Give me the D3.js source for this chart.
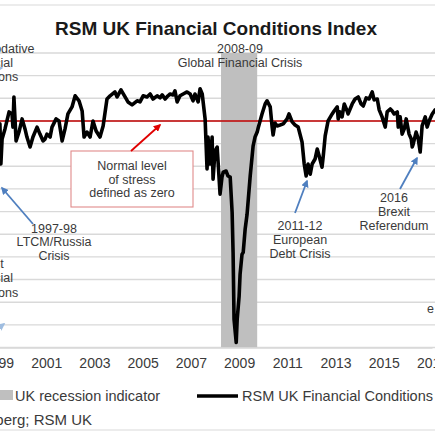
<!DOCTYPE html>
<html><head><meta charset="utf-8">
<script src="https://cdn.jsdelivr.net/npm/d3@7"></script>
<style>body{margin:0;background:#fff}svg{display:block;font-family:Arial,"Liberation Sans",sans-serif}</style>
</head><body><svg id="c" width="435" height="435"></svg>
<script>
// ---- data ----
const years = [
1999.08,1999.12,1999.17,1999.29,1999.46,1999.58,1999.62,1999.66,1999.75,1999.87,
2000.00,2000.12,2000.20,2000.33,2000.45,2000.62,2000.74,2000.87,2000.95,
2001.03,2001.16,2001.24,2001.41,2001.53,2001.66,2001.78,2001.90,
2002.07,2002.20,2002.36,2002.49,2002.57,2002.69,2002.82,2002.94,
2003.07,2003.23,2003.36,2003.52,2003.65,2003.85,2003.94,
2004.10,2004.27,2004.39,2004.56,2004.77,2004.89,
2005.02,2005.18,2005.31,2005.43,2005.60,2005.72,2005.81,2005.93,
2006.05,2006.14,2006.26,2006.34,2006.43,2006.55,2006.68,2006.84,2006.97,
2007.09,2007.17,2007.30,2007.38,2007.47,2007.59,2007.67,2007.71,2007.80,2007.88,2007.92,
2008.00,2008.09,2008.21,2008.29,2008.34,2008.46,2008.54,2008.63,2008.71,2008.75,2008.79,2008.88,2008.92,
2009.00,2009.04,2009.12,2009.17,2009.25,2009.33,2009.46,2009.54,2009.58,2009.66,2009.75,2009.79,2009.87,2009.95,
2010.08,2010.16,2010.29,2010.37,2010.41,2010.49,2010.58,2010.70,2010.83,2010.99,
2011.07,2011.20,2011.32,2011.45,2011.61,2011.70,2011.78,2011.86,2011.95,
2012.03,2012.15,2012.24,2012.32,2012.44,2012.49,2012.57,2012.69,2012.86,2012.94,
2013.07,2013.11,2013.19,2013.27,2013.36,2013.48,2013.52,2013.69,2013.81,2013.94,
2014.06,2014.15,2014.27,2014.39,2014.52,2014.60,2014.73,2014.81,2014.93,
2015.06,2015.14,2015.27,2015.35,2015.43,2015.56,2015.60,2015.68,2015.76,2015.85,2015.93,
2016.05,2016.14,2016.18,2016.22,2016.34,2016.43,2016.51,2016.59,2016.72,2016.80,2016.88,
2017.01,2017.13];
const fciValues = [
-0.13,-1.90,-0.80,-0.35,0.40,0.31,-0.27,1.06,-0.88,-0.49,
0.09,-0.35,-0.71,-1.15,-0.71,-0.27,-0.58,-0.88,-0.80,
-0.58,-0.71,-0.27,0.09,0,-0.88,-0.35,0.31,
0.62,1.11,0.89,0.44,-0.71,-0.49,-0.71,0,
-0.44,-0.71,-0.22,0.97,1.11,1.28,1.06,
1.37,1.06,0.84,0.71,0.89,0.84,
1.11,1.06,1.19,0.97,1.11,1.02,1.15,0.97,
1.11,1.19,1.15,1.33,0.84,1.11,1.19,1.28,1.19,
0.89,1.19,0.84,1.42,1.19,0.09,-2.12,-0.71,-1.90,-0.71,-2.57,
-1.33,-1.15,-3.23,-2.48,-2.26,-2.21,-2.43,-2.48,-4.03,-5.80,-8.76,-9.78,-8.76,
-7.74,-6.77,-5.89,-5.80,-4.78,-4.12,-2.43,-1.55,-1.11,-0.71,-0.49,-0.31,0,0.31,
0.75,0.89,0.62,-0.27,-0.62,-0.09,-0.22,-0.18,-0.13,0.09,
0.31,-0.04,-0.18,-0.27,-0.93,-1.90,-2.43,-1.90,-2.35,
-1.90,-1.68,-1.24,-1.55,-2.04,-1.55,-0.66,0,0.31,0.44,
0.62,0.09,0.40,0.18,0.75,0.44,0.31,0.75,0.97,1.06,
0.75,0.66,1.02,0.97,1.28,0.93,0.97,0.49,0.18,
-0.27,0.40,0.53,0.44,0.31,0.40,-0.27,0.18,-0.58,-0.35,0.09,
-0.58,-0.80,-1.15,-1.02,-0.49,-0.80,-1.37,-0.22,0.18,-0.27,0,
0.31,0.49];
const recessionPeriod = [2008.25, 2009.75];
const xTickYears = [1997, 1999, 2001, 2003, 2005, 2007, 2009, 2011, 2013, 2015, 2017];
const yTickValues = d3.range(-10, 4, 1);
const zeroLine = 0;
const titleText = "RSM UK Financial Conditions Index";
const legendLabels = ["UK recession indicator", "RSM UK Financial Conditions Index"];
const sourceText = "Source: Bloomberg; RSM UK";

// ---- layout ----
const svg = d3.select("#c");
const W = 435, H = 435;
const x = d3.scaleLinear().domain([1999, 2017]).range([-2, 432]);
const y = d3.scaleLinear().domain([-10, 3]).range([347.5, 53]);
const txt = "#3a3a3a";

// frame lines
svg.append("line").attr("x1",0).attr("x2",W).attr("y1",5).attr("y2",5).attr("stroke","#d9d9d9").attr("stroke-width",1.2);
svg.append("line").attr("x1",0).attr("x2",W).attr("y1",430).attr("y2",430).attr("stroke","#d9d9d9").attr("stroke-width",1.2);

// title
svg.append("text").attr("x",216).attr("y",35).attr("text-anchor","middle")
  .attr("font-size",19).attr("font-weight","bold").attr("fill","#1a1a1a").text(titleText);

// gridlines
svg.append("g").selectAll("line").data(yTickValues).join("line")
  .attr("x1",-10).attr("x2",W+10)
  .attr("y1",d=>y(d)).attr("y2",d=>y(d))
  .attr("stroke","#d9d9d9").attr("stroke-width",1.4);

// recession bar
svg.append("rect")
  .attr("x", x(recessionPeriod[0])).attr("width", x(recessionPeriod[1]) - x(recessionPeriod[0]))
  .attr("y", y(3)).attr("height", y(-10) - y(3)).attr("fill","#bfbfbf");

// x axis (labels only)
const xAxis = d3.axisBottom(x).tickValues(xTickYears).tickFormat(d3.format("d")).tickSize(0).tickPadding(11);
const gx = svg.append("g").attr("transform",`translate(0,${y(-10)})`).call(xAxis);
gx.select(".domain").attr("stroke","#d9d9d9").attr("stroke-width",1.4);
gx.selectAll("text").attr("font-size",14).attr("fill",txt).attr("font-family","Arial, 'Liberation Sans', sans-serif");

// zero line
svg.append("line").attr("x1",-10).attr("x2",W+10).attr("y1",y(zeroLine)).attr("y2",y(zeroLine))
  .attr("stroke","#c00000").attr("stroke-width",1.5);

// data line
const data = d3.zip(years, fciValues);
svg.append("path").datum(data)
  .attr("d", d3.line().x(d=>x(d[0])).y(d=>y(d[1])))
  .attr("fill","none").attr("stroke","#000").attr("stroke-width",3.6)
  .attr("stroke-linejoin","round").attr("stroke-linecap","round");

// markers
const defs = svg.append("defs");
function marker(id, color){
  defs.append("marker").attr("id",id).attr("viewBox","0 0 10 10").attr("refX",8).attr("refY",5)
    .attr("markerWidth",4.2).attr("markerHeight",4.2).attr("orient","auto-start-reverse")
    .append("path").attr("d","M0,0 L10,5 L0,10 z").attr("fill",color);
}
marker("ab","#4f7fbf");
marker("ar","#e00000");
marker("al","#9fbde0");
function arrow(x1,y1,x2,y2,color,m,w){
  svg.append("line").attr("x1",x1).attr("y1",y1).attr("x2",x2).attr("y2",y2)
    .attr("stroke",color).attr("stroke-width",w||1.8).attr("marker-end",`url(#${m})`);
}

// annotation text helper
function label(cx, baselines, lines, anchor){
  const t = svg.append("text").attr("font-size",12.5).attr("fill",txt).attr("text-anchor",anchor||"middle");
  lines.forEach((s,i)=> t.append("tspan").attr("x",cx).attr("y",baselines[i]).text(s));
}

label(-10,[53,67,81],["Accommodative","financial","conditions"]);
arrow(-20,70,2,68,"#9fbde0","al",1.8);
label(-10,[268,282,296.5],["Tight","financial","conditions"]);
arrow(-15,338,4,324,"#9fbde0","al",1.8);

label(240,[52.5,66.5],["2008-09","Global Financial Crisis"]);

label(54,[232.5,246,260],["1997-98","LTCM/Russia","Crisis"]);
arrow(33,224,2,188,"#4f7fbf","ab");

// normal level box
svg.append("rect").attr("x",71).attr("y",151).attr("width",122).attr("height",56)
  .attr("fill","#fff").attr("stroke","#e08a8a").attr("stroke-width",1.1);
label(132,[170,183.5,197],["Normal level","of stress","defined as zero"]);
arrow(131,151,160,125,"#e00000","ar");

label(300,[230,244,258],["2011-12","European","Debt Crisis"]);
arrow(295,213,307,181,"#4f7fbf","ab");

label(394,[201.5,215.5,230],["2016","Brexit","Referendum"]);
arrow(400,189,417,158,"#4f7fbf","ab");

label(427,[312.5],["e"],"start");

// legend
svg.append("rect").attr("x",0).attr("y",390).attr("width",13).attr("height",10).attr("fill","#bfbfbf");
svg.append("text").attr("x",15).attr("y",400.5).attr("font-size",14.5).attr("fill",txt).text(legendLabels[0]);
svg.append("line").attr("x1",197).attr("x2",238).attr("y1",396).attr("y2",396).attr("stroke","#000").attr("stroke-width",3.6);
svg.append("text").attr("x",242).attr("y",400.5).attr("font-size",14.5).attr("fill",txt).text(legendLabels[1]);

// source
svg.append("text").attr("x",92).attr("y",425).attr("text-anchor","end").attr("font-size",15).attr("fill",txt).text(sourceText);
</script></body></html>
